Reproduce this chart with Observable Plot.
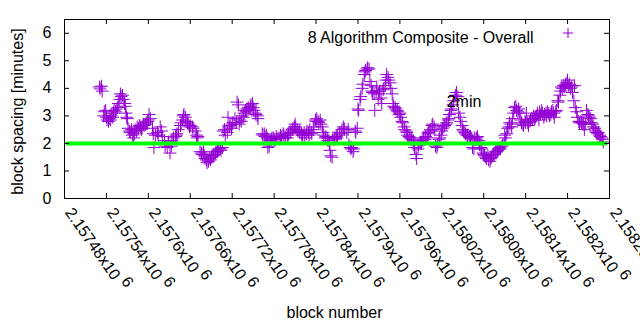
<!DOCTYPE html>
<html><head><meta charset="utf-8">
<script src="https://cdn.jsdelivr.net/npm/d3@7"></script>
<script src="https://cdn.jsdelivr.net/npm/@observablehq/plot@0.6"></script>
<style>
body{margin:0;background:#fff}
svg{font-family:"Liberation Sans",Arial,sans-serif}
</style>
</head><body><div id="chart"></div>
<script>
// ---- data ----
const blocks = [
2157530,2157531,2157533,2157534,2157536,2157537,2157539,2157540,2157541,2157543,2157544,2157546,2157547,2157549,2157550,2157551,2157553,2157554,2157556,2157557,2157559,2157560,2157561,2157563,2157564,2157566,2157567,2157568,2157569,2157570,
2157571,2157573,2157574,2157576,2157577,2157579,2157580,2157581,2157583,2157584,2157586,2157587,2157589,2157590,2157591,2157593,2157594,2157596,2157597,2157599,2157600,2157601,2157603,
2157606,2157607,2157608,2157610,2157613,2157614,2157617,2157619,2157620,2157623,2157624,2157627,2157629,2157631,2157633,2157634,2157636,2157639,2157640,2157641,2157643,2157646,2157647,2157649,2157650,2157651,2157653,2157654,2157656,2157657,2157659,2157660,2157663,2157664,2157667,2157669,2157670,2157671,
2157674,2157676,2157677,2157679,2157680,2157681,2157683,2157684,2157686,2157687,2157689,2157690,2157691,2157693,2157694,2157696,2157697,2157699,2157700,2157701,2157703,2157704,2157706,
2157707,2157709,2157710,2157713,2157714,2157716,2157717,2157719,2157720,2157721,2157724,2157726,2157727,2157729,2157730,2157731,2157733,2157734,2157736,2157737,2157739,2157740,2157741,2157743,2157744,2157746,2157747,2157749,2157750,2157751,2157753,2157754,2157756,2157757,
2157763,2157764,2157766,2157767,2157769,2157770,2157771,2157773,2157774,2157776,2157777,2157779,2157781,2157783,2157784,2157787,2157789,2157790,2157791,2157793,2157794,2157796,2157799,2157800,2157801,2157803,2157804,2157806,2157807,2157809,2157810,2157811,2157813,2157814,2157816,2157817,2157819,2157820,2157821,2157823,2157824,2157826,2157827,2157829,2157830,2157831,2157833,2157834,2157836,2157837,2157839,2157840,2157841,2157843,2157844,
2157846,2157847,2157849,2157850,2157851,2157853,2157854,2157856,2157857,2157859,2157860,2157861,2157863,2157864,2157866,2157867,2157869,2157870,2157871,2157874,2157876,2157877,2157879,2157880,2157881,2157884,2157886,2157887,2157889,2157890,2157891,2157893,2157894,2157896,2157897,2157899,2157900,2157901,2157903,2157904,
2157906,2157907,2157909,2157910,2157911,2157913,2157914,2157916,2157917,2157919,2157920,2157921,2157923,2157924,2157926,2157927,2157929,2157930,2157931,2157933,2157934,2157936,2157937,2157939,2157940,2157941,2157943,2157944,2157946,2157947,2157949,2157950,2157951,2157953,2157954,2157956,2157957,2157959,2157960,
2157961,2157963,2157964,2157966,2157967,2157969,2157970,2157971,2157973,2157974,2157976,2157977,2157979,2157980,2157981,2157983,2157984,2157986,2157987,2157989,2157990,2157991,2157993,2157994,2157996,2157997,2157999,2158000,2158001,2158003,2158004,2158006,2158007,2158009,2158010,2158011,2158013,2158014,2158016,2158017,2158019,2158020,2158021,2158023,2158024,2158026,2158027,2158029,2158030,2158031,2158033,2158034,2158036,2158037,2158039,2158040,2158041,2158043,
2158044,2158046,2158047,2158049,2158050,2158051,2158053,2158054,2158056,2158057,2158059,2158060,2158061,2158063,2158064,2158066,2158067,2158069,2158070,2158071,2158073,2158074,2158076,2158077,2158079,2158080,2158081,2158083,2158084,2158086,2158087,2158089,2158090,2158091,2158093,2158094,2158096,2158097,2158099,2158100,2158101,2158103,2158104,2158106,2158107,2158109,2158110,2158111,2158113,2158114,2158116,2158117,2158119,2158120,2158121,2158123,2158124,2158126,2158127,2158129,2158130,2158131,
2158133,2158134,2158136,2158137,2158139,2158140,2158141,2158143,2158144,2158146,2158147,2158149,2158150,2158151,2158153,2158154,2158156,2158157,2158159,2158160,2158161,2158163,2158164,2158166,2158167,2158169,2158170,2158171,2158173,2158174,2158176,2158177,2158179,2158180,2158181,2158183,2158184,2158186,2158187,2158189,
2158190,2158191,2158193,2158194,2158196,2158197,2158199,2158200,2158201,2158203,2158204,2158206,2158207,2158209,2158210,2158211,2158213,2158214,2158216,2158217,2158219,2158220,2158221,2158223,2158224,2158226,2158227,2158229,2158230,2158231,2158233,2158234,2158236,2158237,2158239,2158240,2158241,2158243,2158244,2158246,2158247,2158249,2158250,2158251
];
const spacing = [
4.05,3.98,4.08,3.9,3.0,3.15,3.2,2.95,2.85,2.8,2.9,2.85,3.0,2.95,3.1,3.2,3.15,3.25,3.3,3.45,3.6,3.8,3.7,3.75,3.6,3.45,3.35,3.1,2.95,2.9,
2.55,2.45,2.4,2.5,2.3,2.2,2.35,2.5,2.45,2.6,2.55,2.65,2.6,2.5,2.55,2.7,2.65,2.7,2.75,2.8,2.85,3.05,2.9,
2.55,2.35,1.85,2.3,2.4,2.3,2.6,2.45,2.25,2.1,1.9,1.85,2.05,1.65,1.9,2.1,2.2,2.25,2.3,2.35,2.5,2.65,2.75,2.85,3.0,3.05,2.95,2.8,2.75,2.7,2.6,2.65,2.6,2.55,2.45,2.3,2.2,2.25,
1.7,1.65,1.6,1.7,1.55,1.45,1.4,1.3,1.35,1.45,1.4,1.5,1.55,1.55,1.6,1.65,1.7,1.7,1.75,1.8,1.8,1.75,1.85,
2.45,2.5,2.3,2.4,2.95,2.6,2.65,2.55,2.7,2.75,2.9,2.75,3.5,3.4,2.7,2.85,2.8,3.0,2.95,3.1,3.2,3.15,3.25,3.3,3.25,3.35,3.4,3.45,3.3,3.2,3.1,3.05,3.0,2.9,
2.35,2.3,2.35,2.25,2.3,2.2,1.85,1.9,2.1,2.15,2.2,2.2,2.15,2.25,2.2,2.2,2.3,2.2,2.25,2.35,2.3,2.2,2.2,2.3,2.35,2.4,2.45,2.5,2.55,2.6,2.7,2.6,2.5,2.45,2.45,2.4,2.35,2.3,2.3,2.4,2.2,2.35,2.45,2.4,2.3,2.5,2.4,2.35,2.5,2.6,2.85,2.8,2.9,2.8,2.75,
2.85,2.7,2.6,2.4,2.3,2.2,2.25,2.2,2.1,2.0,1.75,1.55,1.5,2.2,2.15,2.2,2.25,2.2,2.3,2.4,2.35,2.5,2.6,2.55,2.5,2.4,2.5,1.95,1.85,1.8,1.85,1.7,1.8,2.45,2.4,2.55,3.25,3.2,3.6,3.7,
4.0,4.15,4.5,4.6,4.65,4.7,4.75,4.7,4.25,4.1,3.9,3.85,3.8,3.2,3.9,4.05,3.6,3.8,3.9,3.65,3.45,3.95,4.0,4.1,4.3,4.5,4.4,4.3,4.2,4.0,3.8,3.45,3.35,3.3,3.25,3.2,3.15,3.05,3.1,
2.95,2.8,2.75,2.6,2.5,2.45,2.4,2.3,2.25,2.2,2.2,2.15,2.1,1.95,1.85,1.6,1.45,1.8,1.95,2.0,2.05,2.0,2.1,2.2,2.15,2.25,2.2,2.35,2.4,2.45,2.5,2.65,2.7,2.6,2.5,1.9,1.85,1.95,2.15,2.2,2.3,2.45,2.55,2.6,2.65,2.7,2.75,2.85,2.9,3.05,3.2,3.25,3.4,3.55,3.7,3.75,3.85,3.7,
3.1,2.95,2.8,2.65,2.5,2.45,2.4,2.35,2.3,2.3,2.25,2.2,2.25,2.2,1.85,1.8,2.2,2.15,2.2,2.25,2.1,1.95,1.85,1.8,1.65,1.6,1.55,1.5,1.45,1.55,1.4,1.35,1.45,1.5,1.55,1.6,1.65,1.7,1.7,1.75,1.8,1.85,1.8,1.9,1.95,2.0,2.3,2.2,2.35,2.55,2.6,2.75,2.7,2.6,2.9,3.1,3.3,3.35,3.2,3.15,3.25,3.1,
2.85,2.75,2.7,2.65,2.8,2.75,3.1,2.75,2.65,2.8,2.85,2.9,2.85,3.0,2.9,2.95,3.0,3.1,2.85,3.15,3.05,3.2,3.1,2.95,3.05,3.1,3.0,3.15,3.1,3.0,3.05,3.15,3.2,3.1,2.95,3.15,3.2,3.55,3.5,3.75,
3.9,4.05,4.0,4.1,4.05,4.15,4.2,4.3,4.1,4.15,4.0,4.05,3.85,3.55,4.1,3.3,3.15,2.95,2.8,2.75,2.8,2.75,2.75,2.7,2.5,2.7,3.2,3.05,3.0,2.95,2.9,2.75,2.7,2.6,2.55,2.45,2.4,2.35,2.4,2.3,2.25,2.2,2.15,2.05
];
const xTicks = [2157480,2157540,2157600,2157660,2157720,2157780,2157840,2157900,2157960,2158020,2158080,2158140,2158200,2158260];
const xTickLabels = ["2.15748x10","2.15754x10","2.1576x10","2.15766x10","2.15772x10","2.15778x10","2.15784x10","2.1579x10","2.15796x10","2.15802x10","2.15808x10","2.15814x10","2.1582x10","2.15826x10"];
const xTickExponent = "6";
const yTicks = [0,1,2,3,4,5,6];
const xDomain = [2157480, 2158260];
const yDomain = [0, 6.5];
const targetMinutes = 2;
const seriesName = "8 Algorithm Composite - Overall";
const targetLabel = [{block: 2158027, minutes: 3.5, text: "2min"}];
const xTitle = "block number";
const yTitle = "block spacing [minutes]";

// ---- chart ----
const n = Math.min(blocks.length, spacing.length);
const data = blocks.slice(0, n).map((b, i) => ({block: b, minutes: spacing[i]}));
const W = 640, H = 330, ml = 64, mr = 31, mt = 19, mb = 132;
const fw = W - ml - mr, fh = H - mt - mb;
const purple = "#9400d3";

const chart = Plot.plot({
  width: W, height: H,
  marginLeft: ml, marginRight: mr, marginTop: mt, marginBottom: mb,
  style: {fontSize: "16px", fontFamily: "'Liberation Sans', Arial, sans-serif", background: "white", color: "black", overflow: "visible"},
  x: {domain: xDomain, axis: null},
  y: {domain: yDomain, axis: null},
  marks: [
    Plot.dot(data, {x: "block", y: "minutes", symbol: "plus", r: 4.2, stroke: purple, strokeWidth: 1}),
    Plot.ruleY([targetMinutes], {stroke: "#00ff00", strokeWidth: 4, insetLeft: 2, insetRight: 2}),
    Plot.frame({stroke: "black"}),
    Plot.tickY(yTicks, {y: d => d, insetRight: fw - 5, stroke: "black"}),
    Plot.tickY(yTicks, {y: d => d, insetLeft: fw - 5, stroke: "black"}),
    Plot.tickX(xTicks, {x: d => d, insetTop: fh - 5, stroke: "black"}),
    Plot.tickX(xTicks, {x: d => d, insetBottom: fh - 5, stroke: "black"}),
    Plot.text(yTicks, {y: d => d, text: d => String(d), frameAnchor: "left", textAnchor: "end", dx: -13}),
    Plot.text(xTicks, {x: d => d, text: (d, i) => xTickLabels[i], frameAnchor: "bottom", rotate: 55, textAnchor: "start", dy: 14}),
    Plot.text([yTitle], {frameAnchor: "left", textAnchor: "middle", dx: -47, dy: 2.5, rotate: -90}),
    Plot.text([xTitle], {frameAnchor: "bottom", textAnchor: "middle", dx: -2.5, dy: 119.5}),
    Plot.text([seriesName], {frameAnchor: "top-right", textAnchor: "end", dx: -76, dy: 12.4}),
    Plot.dot([0], {frameAnchor: "top-right", dx: -41.5, dy: 13.5, symbol: "plus", r: 3.4, stroke: purple, strokeWidth: 1}),
    Plot.text(targetLabel, {x: "block", y: "minutes", text: "text", textAnchor: "start", fill: "black"})
  ]
});

const labelSet = new Set(xTickLabels);
chart.querySelectorAll("text").forEach(t => {
  if (labelSet.has(t.textContent)) {
    const ts = document.createElementNS("http://www.w3.org/2000/svg", "tspan");
    ts.setAttribute("dx", "0.3em");
    ts.setAttribute("dy", "-0.4em");
    ts.textContent = xTickExponent;
    t.appendChild(ts);
  }
});

document.getElementById("chart").appendChild(chart);
</script>
</body></html>
